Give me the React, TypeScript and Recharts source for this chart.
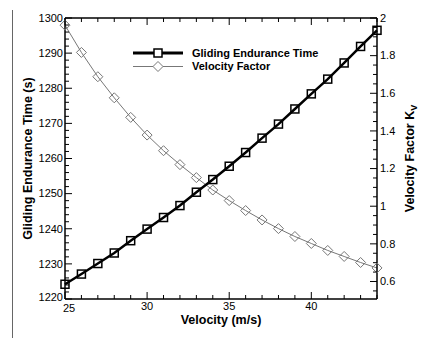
import React from "react";
import { ComposedChart, Line, XAxis, YAxis, Legend } from "recharts";

const velocity = [25, 26, 27, 28, 29, 30, 31, 32, 33, 34, 35, 36, 37, 38, 39, 40, 41, 42, 43, 44];
const glidingTime = [
  1224.2, 1227.1, 1230.1, 1233.1, 1236.6, 1239.9, 1243.2, 1246.6, 1250.4, 1254.0,
  1257.8, 1261.7, 1265.8, 1269.8, 1274.1, 1278.4, 1282.6, 1287.2, 1291.9, 1296.5,
];
const velocityFactor = [
  1.962, 1.817, 1.688, 1.576, 1.472, 1.378, 1.295, 1.221, 1.152, 1.086,
  1.03, 0.977, 0.927, 0.881, 0.839, 0.802, 0.765, 0.733, 0.701, 0.672,
];

const xMajor = [25, 30, 35, 40];
const leftMajor = [1220, 1230, 1240, 1250, 1260, 1270, 1280, 1290, 1300];
const rightMajor = [0.6, 0.8, 1, 1.2, 1.4, 1.6, 1.8, 2];

const FONT = '"Liberation Sans", Arial, Helvetica, sans-serif';

// minor tick positions
function steps(start: number, end: number, step: number) {
  const out: number[] = [];
  for (let v = start; v <= end + 1e-9; v += step) out.push(Math.round(v * 1000) / 1000);
  return out;
}
const xTicks = steps(25, 44, 1);
const leftTicks = steps(1220, 1300, 2);
const rightTicks = steps(0.55, 2, 0.05);

const isMajor = (list: number[], v: number) => list.some((m) => Math.abs(m - v) < 1e-6);

const data = velocity.map((v, i) => ({ v, t: glidingTime[i], k: velocityFactor[i] }));

function BottomTick(props: any) {
  const { x, y, payload, index } = props;
  const major = isMajor(xMajor, payload.value);
  // first label sits a little lower/right, clear of the 1220 label
  const nudge = index === 0 ? 4 : 0;
  return (
    <g>
      <line x1={x} x2={x} y1={y} y2={y - (major ? 7 : 4)} stroke="#000" strokeWidth={1} />
      {major && (
        <text
          x={x + nudge}
          y={y + 3 + (index === 0 ? 2 : 0)}
          dy="0.71em"
          textAnchor="middle"
          fontSize={11}
          fontFamily={FONT}
          fill="#000"
        >
          {payload.value}
        </text>
      )}
    </g>
  );
}

function TopTick(props: any) {
  const { x, y, payload } = props;
  const major = isMajor(xMajor, payload.value);
  return <line x1={x} x2={x} y1={y} y2={y + (major ? 7 : 4)} stroke="#000" strokeWidth={1} />;
}

function LeftTick(props: any) {
  const { x, y, payload, index } = props;
  const major = isMajor(leftMajor, payload.value);
  return (
    <g>
      <line x1={x} x2={x + (major ? 7 : 4)} y1={y} y2={y} stroke="#000" strokeWidth={1} />
      {major && (
        <text
          x={x - 2}
          y={y - (index === 0 ? 2 : 0)}
          dy="0.35em"
          textAnchor="end"
          fontSize={11}
          fontFamily={FONT}
          fill="#000"
        >
          {payload.value}
        </text>
      )}
    </g>
  );
}

function RightTick(props: any) {
  const { x, y, payload } = props;
  const major = isMajor(rightMajor, payload.value);
  return (
    <g>
      <line x1={x} x2={x - (major ? 7 : 4)} y1={y} y2={y} stroke="#000" strokeWidth={1} />
      {major && (
        <text x={x + 3} y={y} dy="0.35em" textAnchor="start" fontSize={11} fontFamily={FONT} fill="#000">
          {String(Math.round(payload.value * 10) / 10)}
        </text>
      )}
    </g>
  );
}

function SquareDot(props: any) {
  const { cx, cy, index } = props;
  if (cx == null || cy == null) return <g key={`sq-${index}`} />;
  return (
    <rect key={`sq-${index}`} x={cx - 4} y={cy - 4} width={8} height={8} fill="none" stroke="#000" strokeWidth={1.5} />
  );
}

function DiamondDot(props: any) {
  const { cx, cy, index } = props;
  if (cx == null || cy == null) return <g key={`dm-${index}`} />;
  const r = 5;
  return (
    <path
      key={`dm-${index}`}
      d={`M${cx},${cy - r}L${cx + r},${cy}L${cx},${cy + r}L${cx - r},${cy}Z`}
      fill="none"
      stroke="#777"
      strokeWidth={1}
    />
  );
}

function LegendBox() {
  return (
    <svg width={200} height={30} style={{ display: "block" }}>
      <line x1={3} x2={53} y1={8} y2={8} stroke="#000" strokeWidth={3} />
      <rect x={24} y={4} width={8} height={8} fill="#fff" stroke="#000" strokeWidth={1.5} />
      <text x={62} y={8} dy="0.35em" fontSize={11} fontWeight="bold" fontFamily={FONT} fill="#000">
        Gliding Endurance Time
      </text>
      <line x1={3} x2={53} y1={21.5} y2={21.5} stroke="#777" strokeWidth={1} />
      <path d="M28,16.5L33,21.5L28,26.5L23,21.5Z" fill="#fff" stroke="#777" strokeWidth={1} />
      <text x={62} y={21.5} dy="0.35em" fontSize={11} fontWeight="bold" fontFamily={FONT} fill="#000">
        Velocity Factor
      </text>
    </svg>
  );
}

const LeftTitle = (props: any) => {
  const vb = props.viewBox || { x: 64, y: 18, width: 1, height: 281 };
  const cx = vb.x + vb.width - 37;
  const cy = vb.y + vb.height / 2;
  return (
    <text
      transform={`translate(${cx},${cy}) rotate(-90)`}
      textAnchor="middle"
      dy="0.35em"
      fontSize={12.5}
      fontWeight="bold"
      fontFamily={FONT}
      fill="#000"
    >
      Gliding Endurance Time (s)
    </text>
  );
};

const RightTitle = (props: any) => {
  const vb = props.viewBox || { x: 377, y: 18, height: 281 };
  const cx = vb.x + 33;
  const cy = vb.y + vb.height / 2;
  return (
    <text
      transform={`translate(${cx},${cy}) rotate(-90)`}
      textAnchor="middle"
      dy="0.35em"
      fontSize={12.5}
      fontWeight="bold"
      fontFamily={FONT}
      fill="#000"
    >
      Velocity Factor K
      <tspan dy={3} fontSize={9}>
        V
      </tspan>
    </text>
  );
};

const BottomTitle = (props: any) => {
  const vb = props.viewBox || { x: 65, y: 299, width: 312 };
  return (
    <text
      x={vb.x + vb.width / 2}
      y={vb.y + 21}
      dy="0.35em"
      textAnchor="middle"
      fontSize={12.5}
      fontWeight="bold"
      fontFamily={FONT}
      fill="#000"
    >
      Velocity (m/s)
    </text>
  );
};

const axisLine = { stroke: "#000", strokeWidth: 1.5 };

export default function App() {
  return (
    <div style={{ position: "absolute", left: 0, top: 0, width: 421, height: 338, background: "#fff" }}>
      <div style={{ position: "absolute", left: 12, top: 10, width: 1, height: 328, background: "#666" }} />
      <ComposedChart
        width={421}
        height={338}
        data={data}
        margin={{ top: 17, right: 43, bottom: 38, left: 64 }}
      >
        <XAxis
          xAxisId="bottom"
          dataKey="v"
          type="number"
          domain={[25, 44]}
          ticks={xTicks}
          interval={0}
          height={1}
          tickSize={0}
          tickMargin={0}
          tickLine={false}
          axisLine={axisLine}
          tick={<BottomTick />}
          label={<BottomTitle />}
        />
        <XAxis
          xAxisId="top"
          orientation="top"
          dataKey="v"
          type="number"
          domain={[25, 44]}
          ticks={xTicks}
          interval={0}
          height={1}
          tickSize={0}
          tickMargin={0}
          tickLine={false}
          axisLine={axisLine}
          tick={<TopTick />}
        />
        <YAxis
          yAxisId="left"
          type="number"
          domain={[1220, 1300]}
          ticks={leftTicks}
          interval={0}
          width={1}
          tickSize={0}
          tickMargin={0}
          tickLine={false}
          axisLine={axisLine}
          tick={<LeftTick />}
          allowDataOverflow
          label={<LeftTitle />}
        />
        <YAxis
          yAxisId="right"
          orientation="right"
          type="number"
          domain={[0.507, 2]}
          ticks={rightTicks}
          interval={0}
          width={1}
          tickSize={0}
          tickMargin={0}
          tickLine={false}
          axisLine={axisLine}
          tick={<RightTick />}
          allowDataOverflow
          label={<RightTitle />}
        />
        <Legend
          layout="horizontal"
          verticalAlign="middle"
          align="center"
          wrapperStyle={{ position: "absolute", top: 45, left: 130, width: 200, height: 30 }}
          content={() => <LegendBox />}
        />
        <Line
          xAxisId="bottom"
          yAxisId="right"
          type="linear"
          dataKey="k"
          name="Velocity Factor"
          stroke="#777"
          strokeWidth={1}
          dot={DiamondDot}
          activeDot={false}
          isAnimationActive={false}
        />
        <Line
          xAxisId="bottom"
          yAxisId="left"
          type="linear"
          dataKey="t"
          name="Gliding Endurance Time"
          stroke="#000"
          strokeWidth={2.5}
          dot={SquareDot}
          activeDot={false}
          isAnimationActive={false}
        />
      </ComposedChart>
    </div>
  );
}
